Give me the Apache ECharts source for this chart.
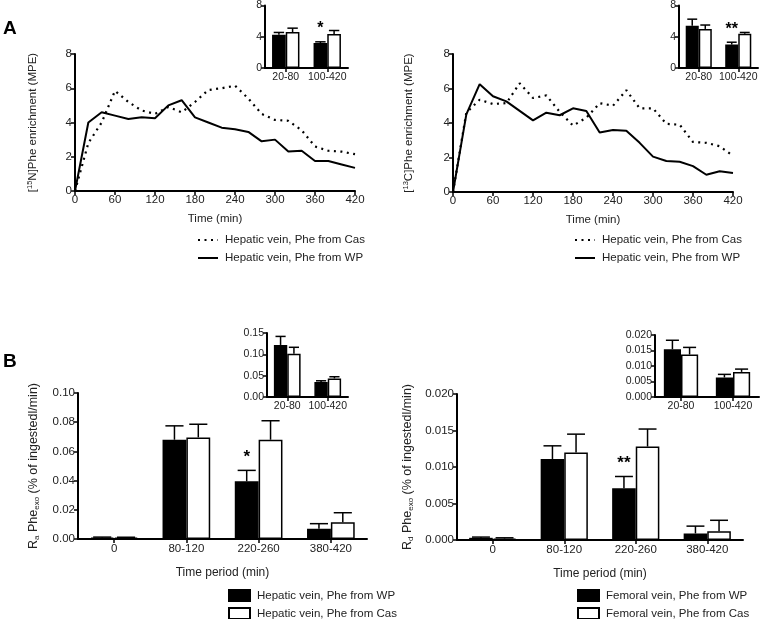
<!DOCTYPE html>
<html><head><meta charset="utf-8">
<script src="https://cdn.jsdelivr.net/npm/echarts@6/dist/echarts.min.js"></script>
<style>html,body{margin:0;padding:0;background:#fff}#c{width:777px;height:619px}</style>
</head><body><div id="c"></div>
<script>
// ---------- DATA ----------
const times = [0,20,40,60,80,100,120,140,160,180,200,220,240,260,280,300,320,340,360,380,400,420];
const n15Cas = [0,2.8,4.0,5.85,5.2,4.7,4.5,4.9,4.6,5.2,5.9,6.0,6.15,5.4,4.5,4.15,4.1,3.55,2.6,2.35,2.3,2.15];
const n15WP  = [0,4.0,4.6,4.4,4.2,4.3,4.25,5.0,5.3,4.3,4.0,3.7,3.6,3.45,2.9,3.0,2.3,2.35,1.75,1.75,1.55,1.35];
const c13Cas = [0,4.6,5.35,5.1,5.15,6.3,5.45,5.6,4.65,3.85,4.3,5.15,5.0,5.9,4.85,4.85,3.95,3.9,2.9,2.85,2.65,2.1];
const c13WP  = [0,4.5,6.25,5.55,5.25,4.7,4.15,4.6,4.45,4.85,4.7,3.45,3.6,3.55,2.85,2.05,1.8,1.75,1.5,1.0,1.2,1.1];

const insetCats = ['20-80','100-420'];
const insA1WP = [4.25,3.2],  insA1WPerr = [0.3,0.15];
const insA1Cas = [4.6,4.35], insA1CasErr = [0.5,0.45];
const insA2WP = [5.4,3.0],   insA2WPerr = [0.85,0.3];
const insA2Cas = [5.0,4.4],  insA2CasErr = [0.5,0.15];

const periodCats = ['0','80-120','220-260','380-420'];
const b1WP = [0.001,0.068,0.0395,0.007],  b1WPerr = [0.0003,0.0095,0.0075,0.0035];
const b1Cas = [0.001,0.0696,0.068,0.0115], b1CasErr = [0.0002,0.009,0.013,0.0065];
const insB1WP = [0.122,0.035],  insB1WPerr = [0.02,0.003];
const insB1Cas = [0.1015,0.0435], insB1CasErr = [0.015,0.004];
const b2WP = [0.0003,0.0111,0.0071,0.0009],  b2WPerr = [0.0001,0.0018,0.0016,0.001];
const b2Cas = [0.0002,0.0120,0.0128,0.0012], b2CasErr = [0.0001,0.0025,0.0024,0.0015];
const insB2WP = [0.0154,0.0063],  insB2WPerr = [0.0029,0.001];
const insB2Cas = [0.0137,0.0081], insB2CasErr = [0.0023,0.0009];

const starsA1 = ['','*'], starsA2 = ['','**'], starsB1 = ['','','*',''], starsB2 = ['','','**',''];

const lgCas = 'Hepatic vein, Phe from Cas', lgWP = 'Hepatic vein, Phe from WP';
const lgFWP = 'Femoral vein, Phe from WP', lgFCas = 'Femoral vein, Phe from Cas';

// ---------- STYLE HELPERS ----------
const FONT = 'Liberation Sans, Arial, sans-serif';
const TXT = '#222';
const BAR_FRAC = 0.33;

function valAxis(gi, min, max, interval, fmt, fs, extra) {
  return Object.assign({
    type: 'value', gridIndex: gi, min: min, max: max, interval: interval,
    axisLine: {show: true, lineStyle: {color: '#000', width: 2}},
    axisTick: {show: true, length: 4, lineStyle: {color: '#000', width: 1.5}},
    splitLine: {show: false},
    axisLabel: {color: TXT, fontSize: fs, fontFamily: FONT, margin: 3, formatter: fmt}
  }, extra || {});
}
function catAxis(gi, data, fs, extra) {
  return Object.assign({
    type: 'category', gridIndex: gi, data: data,
    axisLine: {show: true, lineStyle: {color: '#000', width: 2}},
    axisTick: {show: true, alignWithLabel: true, length: 4, lineStyle: {color: '#000', width: 1.5}},
    axisLabel: {color: TXT, fontSize: fs, fontFamily: FONT, margin: 4, interval: 0}
  }, extra || {});
}
function pairs(xs, ys) { return xs.map((x, i) => [x, ys[i]]); }
function barSeries(name, axi, vals, filled) {
  return {
    type: 'bar', name: name, xAxisIndex: axi, yAxisIndex: axi, data: vals,
    barWidth: (BAR_FRAC * 100) + '%', barGap: '0%',
    itemStyle: {color: filled ? '#000' : '#fff', borderColor: '#000', borderWidth: 1.5},
    silent: true, animation: false
  };
}
function errSeries(axi, vals, errs, side, stars, starSize) {
  return {
    type: 'custom', xAxisIndex: axi, yAxisIndex: axi, z: 5, animation: false, silent: true,
    data: vals.map((v, i) => [i, v, errs[i]]),
    renderItem: function (params, api) {
      const i = api.value(0), v = api.value(1), e = api.value(2);
      const star = stars ? stars[i] : '';
      const band = api.size([1, 0])[0];
      const off = side * band * BAR_FRAC / 2;
      const p0 = api.coord([i, v]), p1 = api.coord([i, v + e]);
      const x = p0[0] + off, cap = band * BAR_FRAC * 0.38;
      const ch = [
        {type: 'line', shape: {x1: x, y1: p0[1], x2: x, y2: p1[1]}, style: {stroke: '#000', lineWidth: 1.5}},
        {type: 'line', shape: {x1: x - cap, y1: p1[1], x2: x + cap, y2: p1[1]}, style: {stroke: '#000', lineWidth: 1.5}}
      ];
      if (star) ch.push({type: 'text', x: x, y: p1[1] - 5,
        style: {text: star, fontSize: starSize, fontWeight: 'bold', fontFamily: FONT, fill: '#000', align: 'center', verticalAlign: 'bottom'}});
      return {type: 'group', children: ch};
    }
  };
}
function lineSeries(name, axi, ys, dotted) {
  return {
    type: 'line', name: name, xAxisIndex: axi, yAxisIndex: axi, data: pairs(times, ys),
    symbol: 'none', showSymbol: false, animation: false, silent: true,
    itemStyle: {color: '#000'},
    lineStyle: dotted ? {color: '#000', width: 2.2, type: [2, 4.5]} : {color: '#000', width: 2}
  };
}

const richY = {
  t: {fontSize: 11.5, fontFamily: FONT, color: TXT},
  sup: {fontSize: 7.5, fontFamily: FONT, color: TXT, verticalAlign: 'top', padding: [0, 0, 6, 0]}
};
const richB = {
  t: {fontSize: 12.5, fontFamily: FONT, color: TXT},
  sub: {fontSize: 8, fontFamily: FONT, color: TXT, padding: [7, 0, 0, 0]}
};

const fmt2 = v => v.toFixed(2), fmt3 = v => v.toFixed(3), fmt0 = v => String(v);

const grids = [
  {left: 75,  top: 54,  width: 280, height: 137},
  {left: 265, top: 5,   width: 83,  height: 63},
  {left: 453, top: 54,  width: 280, height: 138},
  {left: 679, top: 5,   width: 79,  height: 63},
  {left: 78,  top: 393, width: 289, height: 146},
  {left: 267, top: 333, width: 81,  height: 64},
  {left: 457, top: 394, width: 286, height: 146},
  {left: 655, top: 335, width: 104, height: 62}
];

const timeX = gi => ({
  type: 'value', gridIndex: gi, min: 0, max: 420, interval: 60,
  axisLine: {show: true, lineStyle: {color: '#000', width: 2}},
  axisTick: {show: true, length: 4, lineStyle: {color: '#000', width: 1.5}},
  splitLine: {show: false},
  axisLabel: {color: TXT, fontSize: 11.5, fontFamily: FONT, margin: 3},
  name: 'Time (min)', nameLocation: 'middle', nameGap: 22,
  nameTextStyle: {color: TXT, fontSize: 11.5, fontFamily: FONT}
});
const periodX = gi => catAxis(gi, periodCats, 11.5, {name: 'Time period (min)', nameLocation: 'middle', nameGap: 28,
  nameTextStyle: {color: TXT, fontSize: 12, fontFamily: FONT}});

const legBase = {orient: 'vertical', padding: 0, itemGap: 5, selectedMode: false, height: 60,
  textStyle: {color: TXT, fontSize: 11.5, fontFamily: FONT, padding: [0, 0, 0, 2]}};

const option = {
  backgroundColor: '#fff',
  animation: false,
  grid: grids.map(g => Object.assign({containLabel: false}, g)),
  xAxis: [
    timeX(0),
    catAxis(1, insetCats, 10.5),
    timeX(2),
    catAxis(3, insetCats, 10.5),
    periodX(4),
    catAxis(5, insetCats, 10.5),
    periodX(6),
    catAxis(7, insetCats, 10.5)
  ],
  yAxis: [
    valAxis(0, 0, 8, 2, fmt0, 11.5, {name: '{t|[}{sup|15}{t|N]Phe enrichment (MPE)}', nameLocation: 'middle', nameGap: 35, nameRotate: 90,
      nameTextStyle: {rich: richY}}),
    valAxis(1, 0, 8, 4, fmt0, 10.5),
    valAxis(2, 0, 8, 2, fmt0, 11.5, {name: '{t|[}{sup|13}{t|C]Phe enrichment (MPE)}', nameLocation: 'middle', nameGap: 37, nameRotate: 90,
      nameTextStyle: {rich: richY}}),
    valAxis(3, 0, 8, 4, fmt0, 10.5),
    valAxis(4, 0, 0.1, 0.02, fmt2, 11.5, {name: '{t|R}{sub|a}{t| Phe}{sub|exo}{t| (% of ingestedl/min)}', nameLocation: 'middle', nameGap: 37, nameRotate: 90,
      nameTextStyle: {rich: richB}}),
    valAxis(5, 0, 0.15, 0.05, fmt2, 10.5),
    valAxis(6, 0, 0.02, 0.005, fmt3, 11.5, {name: '{t|R}{sub|d}{t| Phe}{sub|exo}{t| (% of ingestedl/min)}', nameLocation: 'middle', nameGap: 42, nameRotate: 90,
      nameTextStyle: {rich: richB}}),
    valAxis(7, 0, 0.02, 0.005, fmt3, 10.5)
  ],
  legend: [
    Object.assign({}, legBase, {left: 197, top: 234, itemWidth: 20, itemHeight: 14, itemGap: 6,
      itemStyle: {opacity: 0}, data: [lgCas, lgWP]}),
    Object.assign({}, legBase, {left: 574, top: 234, itemWidth: 20, itemHeight: 14, itemGap: 6,
      itemStyle: {opacity: 0}, data: [lgCas + ' ', lgWP + ' ']}),
    Object.assign({}, legBase, {left: 228, top: 589, itemWidth: 21, itemHeight: 11, itemGap: 5, icon: 'rect',
      data: [lgWP + '  ', lgCas + '  ']}),
    Object.assign({}, legBase, {left: 577, top: 589, itemWidth: 21, itemHeight: 11, itemGap: 5, icon: 'rect',
      data: [lgFWP, lgFCas]})
  ],
  graphic: [
    {type: 'text', left: 3, top: 19, style: {text: 'A', fontSize: 19, fontWeight: 'bold', fontFamily: FONT, fill: '#000'}},
    {type: 'text', left: 3, top: 352, style: {text: 'B', fontSize: 19, fontWeight: 'bold', fontFamily: FONT, fill: '#000'}}
  ],
  series: [
    lineSeries(lgCas, 0, n15Cas, true),
    lineSeries(lgWP, 0, n15WP, false),
    lineSeries(lgCas + ' ', 2, c13Cas, true),
    lineSeries(lgWP + ' ', 2, c13WP, false),

    barSeries('a1wp', 1, insA1WP, true), barSeries('a1cas', 1, insA1Cas, false),
    errSeries(1, insA1WP, insA1WPerr, -1, starsA1, 16), errSeries(1, insA1Cas, insA1CasErr, 1),
    barSeries('a2wp', 3, insA2WP, true), barSeries('a2cas', 3, insA2Cas, false),
    errSeries(3, insA2WP, insA2WPerr, -1, starsA2, 16), errSeries(3, insA2Cas, insA2CasErr, 1),

    barSeries(lgWP + '  ', 4, b1WP, true), barSeries(lgCas + '  ', 4, b1Cas, false),
    errSeries(4, b1WP, b1WPerr, -1, starsB1, 17), errSeries(4, b1Cas, b1CasErr, 1),
    barSeries('b1iwp', 5, insB1WP, true), barSeries('b1icas', 5, insB1Cas, false),
    errSeries(5, insB1WP, insB1WPerr, -1), errSeries(5, insB1Cas, insB1CasErr, 1),

    barSeries(lgFWP, 6, b2WP, true), barSeries(lgFCas, 6, b2Cas, false),
    errSeries(6, b2WP, b2WPerr, -1, starsB2, 17), errSeries(6, b2Cas, b2CasErr, 1),
    barSeries('b2iwp', 7, insB2WP, true), barSeries('b2icas', 7, insB2Cas, false),
    errSeries(7, insB2WP, insB2WPerr, -1), errSeries(7, insB2Cas, insB2CasErr, 1)
  ]
};
const chart = echarts.init(document.getElementById('c'), null, {renderer: 'canvas'});
chart.setOption(option);
</script></body></html>
